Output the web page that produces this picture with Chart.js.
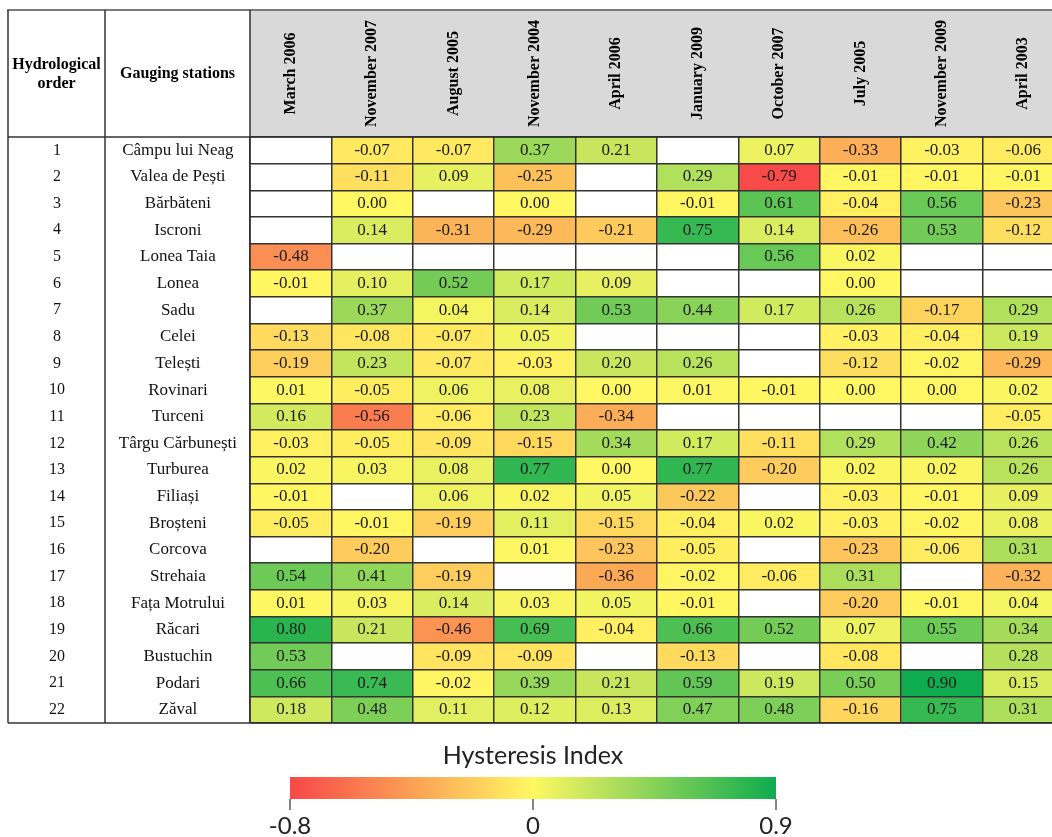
<!DOCTYPE html>
<html>
<head>
<meta charset="utf-8">
<script src="https://cdn.jsdelivr.net/npm/chart.js@4"></script>
<style>
html, body { margin: 0; padding: 0; background: #fff; overflow: hidden; }
#wrap { width: 1052px; height: 837px; overflow: hidden; position: relative; }
canvas { display: block; }
</style>
</head>
<body>
<div id="wrap"><canvas id="c" width="1064" height="837"></canvas></div>
<script>
// ---------- data ----------
const stations = ['Câmpu lui Neag', 'Valea de Pești', 'Bărbăteni', 'Iscroni', 'Lonea Taia', 'Lonea', 'Sadu',
  'Celei', 'Telești', 'Rovinari', 'Turceni', 'Târgu Cărbunești', 'Turburea', 'Filiași', 'Broșteni',
  'Corcova', 'Strehaia', 'Fața Motrului', 'Răcari', 'Bustuchin', 'Podari', 'Zăval'];
const orderLabels = stations.map((s, i) => String(i + 1));
const periods = ['March 2006', 'November 2007', 'August 2005', 'November 2004', 'April 2006',
  'January 2009', 'October 2007', 'July 2005', 'November 2009', 'April 2003'];

const march2006    = [null, null, null, null, -0.48, -0.01, null, -0.13, -0.19, 0.01, 0.16, -0.03, 0.02, -0.01, -0.05, null, 0.54, 0.01, 0.80, 0.53, 0.66, 0.18];
const november2007 = [-0.07, -0.11, 0.00, 0.14, null, 0.10, 0.37, -0.08, 0.23, -0.05, -0.56, -0.05, 0.03, null, -0.01, -0.20, 0.41, 0.03, 0.21, null, 0.74, 0.48];
const august2005   = [-0.07, 0.09, null, -0.31, null, 0.52, 0.04, -0.07, -0.07, 0.06, -0.06, -0.09, 0.08, 0.06, -0.19, null, -0.19, 0.14, -0.46, -0.09, -0.02, 0.11];
const november2004 = [0.37, -0.25, 0.00, -0.29, null, 0.17, 0.14, 0.05, -0.03, 0.08, 0.23, -0.15, 0.77, 0.02, 0.11, 0.01, null, 0.03, 0.69, -0.09, 0.39, 0.12];
const april2006    = [0.21, null, null, -0.21, null, 0.09, 0.53, null, 0.20, 0.00, -0.34, 0.34, 0.00, 0.05, -0.15, -0.23, -0.36, 0.05, -0.04, null, 0.21, 0.13];
const january2009  = [null, 0.29, -0.01, 0.75, null, null, 0.44, null, 0.26, 0.01, null, 0.17, 0.77, -0.22, -0.04, -0.05, -0.02, -0.01, 0.66, -0.13, 0.59, 0.47];
const october2007  = [0.07, -0.79, 0.61, 0.14, 0.56, null, 0.17, null, null, -0.01, null, -0.11, -0.20, null, 0.02, null, -0.06, null, 0.52, null, 0.19, 0.48];
const july2005     = [-0.33, -0.01, -0.04, -0.26, 0.02, 0.00, 0.26, -0.03, -0.12, 0.00, null, 0.29, 0.02, -0.03, -0.03, -0.23, 0.31, -0.20, 0.07, -0.08, 0.50, -0.16];
const november2009 = [-0.03, -0.01, 0.56, 0.53, null, null, -0.17, -0.04, -0.02, 0.00, null, 0.42, 0.02, -0.01, -0.02, -0.06, null, -0.01, 0.55, null, 0.90, 0.75];
const april2003    = [-0.06, -0.01, -0.23, -0.12, null, null, 0.29, 0.19, -0.29, 0.02, -0.05, 0.26, 0.26, 0.09, 0.08, 0.31, -0.32, 0.04, 0.34, 0.28, 0.15, 0.31];

const seriesValues = [march2006, november2007, august2005, november2004, april2006,
  january2009, october2007, july2005, november2009, april2003];

const legendTicks = [-0.8, 0, 0.9];
const legendTitle = 'Hysteresis Index';
const headerOrder = ['Hydrological', 'order'];
const headerStations = 'Gauging stations';

// ---------- styles ----------
const RED = [248, 72, 72], YEL = [255, 248, 98], GRN = [14, 172, 78];
const LINE = '#333333';
const SERIF = '"Liberation Serif", "Times New Roman", serif';
const TABLE_TOP = 10, HEADER_BOTTOM = 137;

function mix(a, b, t) { return a.map((v, k) => Math.round(v + (b[k] - v) * t)); }
function colorFor(v) {
  const [lo, mid, hi] = legendTicks;
  let c;
  if (v <= mid) c = mix(RED, YEL, Math.max(0, Math.min(1, (v - lo) / (mid - lo))));
  else c = mix(YEL, GRN, Math.max(0, Math.min(1, (v - mid) / (hi - mid))));
  return 'rgb(' + c.join(',') + ')';
}

const datasets = periods.map((p, j) => ({
  label: p,
  values: seriesValues[j],
  data: seriesValues[j].map(v => v === null ? null : [j, j + 1]),
  backgroundColor: seriesValues[j].map(v => v === null ? 'rgba(0,0,0,0)' : colorFor(v)),
  borderWidth: 0,
  grouped: false,
  barPercentage: 1,
  categoryPercentage: 1,
  xAxisID: 'x',
  yAxisID: 'y'
}));

// ---------- plugins ----------
const tablePlugin = {
  id: 'tablePlugin',
  beforeDatasetsDraw(chart) {
    const ctx = chart.ctx, ca = chart.chartArea;
    ctx.save();
    ctx.fillStyle = '#d9d9d9';
    ctx.fillRect(ca.left, TABLE_TOP, chart.width - ca.left, ca.top - TABLE_TOP);
    ctx.restore();
  },
  afterDatasetsDraw(chart) {
    const ctx = chart.ctx;
    chart.data.datasets.forEach((ds, di) => {
      const meta = chart.getDatasetMeta(di);
      meta.data.forEach((el, i) => {
        const v = ds.values[i];
        if (v === null || v === undefined) return;
        const pt = el.getCenterPoint();
        ctx.save();
        ctx.font = '17px ' + SERIF;
        ctx.fillStyle = '#1a1a1a';
        ctx.textAlign = 'center';
        ctx.textBaseline = 'middle';
        ctx.fillText(v.toFixed(2), pt.x, pt.y);
        ctx.restore();
      });
    });
  },
  afterDraw(chart) {
    const ctx = chart.ctx, ca = chart.chartArea;
    const W = chart.width;
    const yo = chart.scales.yOrder, ys = chart.scales.y, xs = chart.scales.x;
    const top = TABLE_TOP;
    const x0 = yo.left, x1 = yo.right, x2 = ys.right;
    ctx.save();
    // table frame
    ctx.strokeStyle = '#7a7a7a';
    ctx.lineWidth = 2;
    ctx.beginPath(); ctx.moveTo(x0 - 1, top); ctx.lineTo(W, top); ctx.stroke();
    ctx.strokeStyle = LINE;
    ctx.lineWidth = 1.5;
    ctx.beginPath();
    [x0, x1, x2].forEach(x => { ctx.moveTo(x, top); ctx.lineTo(x, ca.bottom); });
    ctx.moveTo(x0, ca.top); ctx.lineTo(W, ca.top);
    ctx.moveTo(x0, ca.bottom); ctx.lineTo(W, ca.bottom);
    ctx.stroke();

    // header texts
    ctx.fillStyle = '#000';
    ctx.font = 'bold 16px ' + SERIF;
    ctx.textAlign = 'center';
    ctx.textBaseline = 'middle';
    const hc = (top + ca.top) / 2;
    ctx.fillText(headerOrder[0], (x0 + x1) / 2, hc - 9);
    ctx.fillText(headerOrder[1], (x0 + x1) / 2, hc + 10);
    ctx.fillText(headerStations, (x1 + x2) / 2, hc);
    periods.forEach((p, i) => {
      const x = xs.getPixelForValue(i + 0.5);
      ctx.save();
      ctx.translate(x, hc);
      ctx.rotate(-Math.PI / 2);
      ctx.fillText(p, 0, 0);
      ctx.restore();
    });

    // colour legend
    const lx0 = 290, lx1 = 776, ly0 = 777, ly1 = 799;
    const g = ctx.createLinearGradient(lx0, 0, lx1, 0);
    g.addColorStop(0, colorFor(legendTicks[0]));
    g.addColorStop(0.5, colorFor(legendTicks[1]));
    g.addColorStop(1, colorFor(legendTicks[2]));
    ctx.fillStyle = g;
    ctx.fillRect(lx0, ly0, lx1 - lx0, ly1 - ly0);
    ctx.fillStyle = '#222';
    ctx.font = '25px Lato, "Open Sans", sans-serif';
    ctx.fillText(legendTitle, (lx0 + lx1) / 2, 756);
    const tx = [lx0, (lx0 + lx1) / 2, lx1];
    ctx.strokeStyle = '#333';
    ctx.lineWidth = 1.2;
    ctx.beginPath();
    tx.forEach(x => { ctx.moveTo(x, ly1); ctx.lineTo(x, ly1 + 11); });
    ctx.stroke();
    ctx.font = '24px Lato, "Open Sans", sans-serif';
    legendTicks.forEach((t, i) => {
      ctx.fillText(String(t), tx[i], 826);
    });
    ctx.restore();
  }
};

new Chart(document.getElementById('c'), {
  type: 'bar',
  data: { labels: stations, datasets },
  options: {
    indexAxis: 'y',
    responsive: false,
    animation: false,
    layout: { padding: { left: 8, top: HEADER_BOTTOM, right: 0, bottom: 0 } },
    plugins: { legend: { display: false }, tooltip: { enabled: false } },
    scales: {
      x: {
        type: 'linear', position: 'bottom', min: 0, max: periods.length,
        ticks: { display: false, stepSize: 1 },
        grid: { color: LINE, lineWidth: 1.5, drawTicks: false, z: 1 },
        border: { display: false },
        afterFit: s => { s.height = 114; }
      },
      y: {
        type: 'category', position: 'left', labels: stations, offset: true, weight: 0,
        ticks: { font: { family: SERIF, size: 17 }, color: '#111', crossAlign: 'center', padding: 13, autoSkip: false },
        grid: { offset: true, color: LINE, lineWidth: 1.5, drawTicks: false, z: 1 },
        border: { display: false },
        afterFit: s => { s.width = 145; }
      },
      yOrder: {
        type: 'category', position: 'left', labels: orderLabels, offset: true, weight: 1,
        ticks: { font: { family: SERIF, size: 16 }, color: '#111', crossAlign: 'center', padding: 40, autoSkip: false },
        grid: { display: false, drawTicks: false },
        border: { display: false },
        afterFit: s => { s.width = 97; }
      }
    }
  },
  plugins: [tablePlugin]
});
</script>
</body>
</html>
